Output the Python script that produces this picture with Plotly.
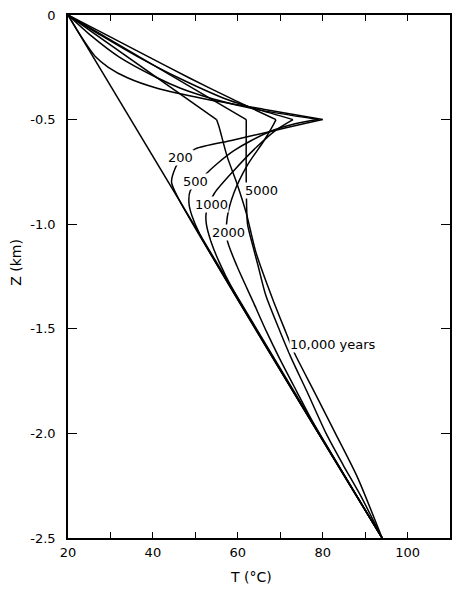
import plotly.graph_objects as go

# ---- data (T in deg C, Z in km) ----
init_Z = [0, -2.5]
init_T = [20, 94]

t200_Z = [0, -0.1, -0.2, -0.25, -0.3, -0.35, -0.4, -0.45, -0.5, -0.52, -0.56, -0.6, -0.64, -0.69, -0.73, -0.8, -0.88, -2.5]
t200_T = [20, 23, 26.5, 29.5, 34, 41, 52, 66, 80, 75.5, 67, 58.5, 50, 46.5, 45.3, 44.4, 46.1, 94]

t500_Z = [0, -0.1, -0.2, -0.3, -0.35, -0.4, -0.45, -0.5, -0.52, -0.55, -0.6, -0.65, -0.71, -0.76, -0.84, -0.9, -0.96, -1.05, -2.5]
t500_T = [20, 25.5, 32, 41, 46.5, 54, 64, 79, 73.5, 68.5, 63.2, 59, 55.2, 52.5, 48.8, 48.5, 49.2, 51.1, 94]

t1000_Z = [0, -0.1, -0.2, -0.3, -0.4, -0.45, -0.5, -0.55, -0.63, -0.743, -0.852, -0.94, -1.0, -1.09, -1.18, -1.3, -2.5]
t1000_T = [20, 28, 36.5, 46, 57, 64.5, 73, 69, 64.5, 59.1, 54.5, 52.6, 52.6, 53.8, 55.6, 58.5, 94]

t2000_Z = [0, -0.1, -0.2, -0.3, -0.4, -0.5, -0.52, -0.6, -0.72, -0.85, -0.97, -1.075, -1.2, -1.37, -1.515, -1.64, -1.8, -1.95, -2.5]
t2000_T = [20, 29.5, 39, 48.5, 58.5, 69, 68.5, 66.2, 62.2, 59.1, 57.5, 57.5, 59.8, 63.6, 66.8, 69.8, 73.9, 77.8, 94]

t5000_Z = [0, -0.5, -0.8, -1.0, -1.1, -1.2, -1.34, -1.515, -1.64, -1.8, -2.0, -2.15, -2.3, -2.5]
t5000_T = [20, 62, 62, 62.3, 63.5, 64.8, 66.6, 70, 72.6, 76.3, 80.8, 84.8, 89.0, 94]

t10000_Z = [0, -0.5, -0.535, -0.677, -0.805, -0.947, -1.136, -1.373, -1.515, -1.61, -1.8, -2.0, -2.21, -2.5]
t10000_T = [20, 55, 55.6, 57.5, 59.8, 62, 64.3, 68.5, 71.3, 73.2, 78, 83, 88.2, 94]

aquifer_Z = -0.5

curve_labels = ["200", "500", "1000", "2000", "5000", "10,000 years"]
label_T = [46.5, 50.0, 53.8, 57.8, 65.7, 72.0]
label_Z = [-0.682, -0.795, -0.904, -1.042, -0.838, -1.577]
label_anchor = ["center", "center", "center", "center", "center", "left"]

x_tickvals = [20, 30, 40, 50, 60, 70, 80, 90, 100]
x_ticktext = ["20", "", "40", "", "60", "", "80", "", "100"]
y_tickvals = [0, -0.5, -1.0, -1.5, -2.0, -2.5]
y_ticktext = ["0", "-0.5", "-1.0", "-1.5", "-2.0", "-2.5"]

FONT = "DejaVu Sans"

fig = go.Figure()
fig.add_trace(go.Scatter(x=init_T, y=init_Z, mode="lines",
                         line=dict(color="black", width=1.5),
                         showlegend=False, hoverinfo="skip"))

for T, Z in [(t200_T, t200_Z), (t500_T, t500_Z), (t1000_T, t1000_Z),
             (t2000_T, t2000_Z), (t5000_T, t5000_Z), (t10000_T, t10000_Z)]:
    k = Z.index(aquifer_Z)
    # segment above the aquifer and segment below, each smoothed separately
    for xs, ys in [(T[:k + 1], Z[:k + 1]), (T[k:], Z[k:])]:
        fig.add_trace(go.Scatter(x=xs, y=ys, mode="lines",
                                 line=dict(color="black", width=1.5,
                                           shape="spline", smoothing=0.7),
                                 showlegend=False, hoverinfo="skip"))

for txt, tx, tz, anc in zip(curve_labels, label_T, label_Z, label_anchor):
    fig.add_annotation(x=tx, y=tz, text=txt, showarrow=False, xanchor=anc,
                       yanchor="middle", bgcolor="white", borderpad=0,
                       font=dict(family=FONT, size=13, color="black"))

# axis titles
fig.add_annotation(xref="paper", yref="paper", x=-0.135, y=0.527, text="Z (km)",
                   textangle=-90, showarrow=False, xanchor="center", yanchor="middle",
                   font=dict(family=FONT, size=14, color="black"))
fig.add_annotation(xref="paper", yref="paper", x=0.479, y=-0.074, text="T (°C)",
                   showarrow=False, xanchor="center", yanchor="middle",
                   font=dict(family=FONT, size=14, color="black"))

fig.update_layout(
    width=460, height=589,
    margin=dict(l=68, r=8, t=10, b=51),
    paper_bgcolor="white", plot_bgcolor="white",
    font=dict(family=FONT, size=13, color="black"),
    xaxis=dict(range=[20, 110], showline=True, linecolor="black", linewidth=1.5,
               mirror="ticks", ticks="inside", ticklen=6, tickwidth=1.2, tickcolor="black",
               tickvals=x_tickvals, ticktext=x_ticktext, showgrid=False, zeroline=False,
               ticklabelstandoff=2),
    yaxis=dict(range=[-2.5, 0], showline=True, linecolor="black", linewidth=1.5,
               mirror="ticks", ticks="inside", ticklen=9, tickwidth=1.2, tickcolor="black",
               tickvals=y_tickvals, ticktext=y_ticktext, showgrid=False, zeroline=False,
               ticklabelstandoff=8),
)

fig.write_html("out.html")
